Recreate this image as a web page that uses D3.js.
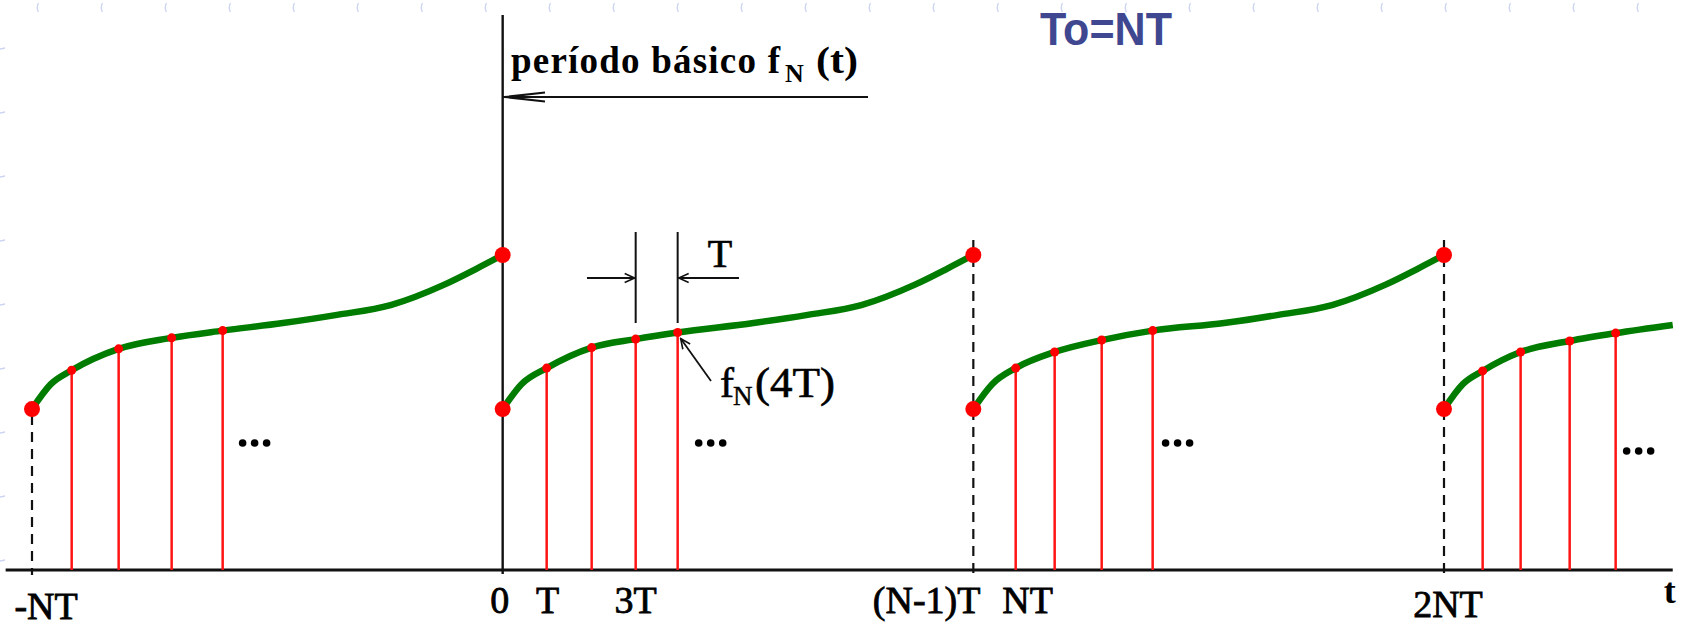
<!DOCTYPE html>
<html><head><meta charset="utf-8">
<script src="https://cdn.jsdelivr.net/npm/d3@7"></script>
<style>html,body{margin:0;padding:0;background:#fff;overflow:hidden}svg{display:block}</style>
</head><body>
<svg id="chart" width="1688" height="627"></svg>
<script>
// ---------------- data (t in units of NT, value normalised to f_N(NT-) = 1) ----------------
const periodStarts = [-1, 0, 1, 2];
const startValue = 0.511;            // f_N(0)
const endValue = 1.0;                // f_N at end of period
const headFrac = [0.04];
const headValues = [0.59];
const sampleFrac = [
  [0.0843, 0.1841, 0.2967, 0.4051],
  [0.0935, 0.1891, 0.2826, 0.3718],
  [0.0900, 0.1728, 0.2727, 0.3810],
  [0.0821, 0.1628, 0.2670, 0.3647]
];
const sampleValues = [
  [0.634, 0.702, 0.737, 0.760],
  [0.641, 0.706, 0.733, 0.754],
  [0.641, 0.692, 0.730, 0.760],
  [0.632, 0.692, 0.727, 0.752]
];
const tailFrac = [0.533, 0.648, 0.762, 0.876, 0.945, 1.0];
const tailValues = [0.784, 0.810, 0.841, 0.906, 0.957, 1.0];
const lastFrac = 0.486, lastValue = 0.778;   // visible end of the last period
const axisDomain = [-1.056, 2.486];
const tickLabels = ["-NT", "0", "T", "3T", "(N-1)T", "NT", "2NT"];
const tickPos = [-0.970, -0.006, 0.0956, 0.2826, 0.9008, 1.1154, 2.0085];
const ellipsisT = [-0.527, 0.442, 1.434, 2.4136];
const ellipsisV = [0.403, 0.403, 0.403, 0.378];

// ---------------- scales ----------------
const svg = d3.select("#chart");
const x = d3.scaleLinear().domain([-1, 2]).range([32, 1444]);
const y = d3.scaleLinear().domain([0, 1]).range([570, 255]);
const axisY = y(0);

// faint slide decoration
const deco = svg.append("g").attr("fill", "none").attr("stroke", "#cbd5f2").attr("stroke-width", 1.3);
d3.range(0, 26).forEach(k => {
  const xx = 37 + 64 * k;
  deco.append("path").attr("d", `M${xx+1.5},3 Q${xx-1},7.5 ${xx+1.5},12`);
});
d3.range(0, 9).forEach(k => {
  const yy = 49 + 64 * k;
  deco.append("path").attr("d", `M0,${yy} L5,${yy-1}`);
});

// markers
const defs = svg.append("defs");
defs.append("marker").attr("id", "arr").attr("viewBox", "0 0 12 12").attr("refX", 11).attr("refY", 6)
  .attr("markerWidth", 12).attr("markerHeight", 12).attr("markerUnits", "userSpaceOnUse").attr("orient", "auto")
  .append("path").attr("d", "M1,1.5 L11,6 L1,10.5").attr("fill", "none").attr("stroke", "#111").attr("stroke-width", 1.6);

// ---------------- axis ----------------
svg.append("line").attr("x1", x(axisDomain[0])).attr("x2", x(axisDomain[1]))
  .attr("y1", axisY).attr("y2", axisY).attr("stroke", "#111").attr("stroke-width", 2.8);

// vertical solid line at t = 0
svg.append("line").attr("x1", x(0)).attr("x2", x(0)).attr("y1", 15).attr("y2", axisY + 4)
  .attr("stroke", "#111").attr("stroke-width", 2.4);

// dashed boundaries
svg.append("line").attr("x1", x(-1)).attr("x2", x(-1)).attr("y1", y(startValue) + 6).attr("y2", axisY + 5)
  .attr("stroke", "#111").attr("stroke-width", 2.2).attr("stroke-dasharray", "10,7");
[1, 2].forEach(p => {
  svg.append("line").attr("x1", x(p)).attr("x2", x(p)).attr("y1", 240).attr("y2", axisY + 5)
    .attr("stroke", "#111").attr("stroke-width", 2.2).attr("stroke-dasharray", "10,7");
});

// ---------------- series ----------------
const line = d3.line().x(d => x(d.t)).y(d => y(d.v)).curve(d3.curveMonotoneX);
periodStarts.forEach((p, i) => {
  const pts = [{t: p, v: startValue}];
  headFrac.forEach((f, j) => pts.push({t: p + f, v: headValues[j]}));
  sampleFrac[i].forEach((f, j) => pts.push({t: p + f, v: sampleValues[i][j]}));
  const lastS = sampleFrac[i][sampleFrac[i].length - 1];
  const isLast = i === periodStarts.length - 1;
  tailFrac.forEach((f, j) => {
    if (f > lastS && (!isLast || f < lastFrac)) pts.push({t: p + f, v: tailValues[j]});
  });
  if (isLast) pts.push({t: p + lastFrac, v: lastValue});

  // stems
  sampleFrac[i].forEach((f, j) => {
    svg.append("line").attr("x1", x(p + f)).attr("x2", x(p + f))
      .attr("y1", axisY).attr("y2", y(sampleValues[i][j]))
      .attr("stroke", "#ff1414").attr("stroke-width", 2.5);
  });
  // curve
  svg.append("path").datum(pts).attr("d", line).attr("fill", "none")
    .attr("stroke", "#007c00").attr("stroke-width", 6.5);
  // sample dots
  sampleFrac[i].forEach((f, j) => {
    svg.append("circle").attr("cx", x(p + f)).attr("cy", y(sampleValues[i][j])).attr("r", 4.5).attr("fill", "#ff0000");
  });
  // endpoint dots
  svg.append("circle").attr("cx", x(p)).attr("cy", y(startValue)).attr("r", 8).attr("fill", "#ff0000");
  if (!isLast) svg.append("circle").attr("cx", x(p + 1)).attr("cy", y(endValue)).attr("r", 8).attr("fill", "#ff0000");

  // ellipsis
  [-12, 0, 12].forEach(dx => {
    svg.append("circle").attr("cx", x(ellipsisT[i]) + dx).attr("cy", y(ellipsisV[i])).attr("r", 3.8).attr("fill", "#000");
  });
});

// ---------------- annotations ----------------
const serif = "'Liberation Serif','Times New Roman',serif";

// basic period arrow
svg.append("line").attr("x1", x(0)).attr("x2", 868).attr("y1", 97).attr("y2", 97).attr("stroke", "#111").attr("stroke-width", 2.2);
svg.append("path").attr("d", `M545,92.5 L${x(0)+2},97 L545,101.5`).attr("fill", "none").attr("stroke", "#111").attr("stroke-width", 2);
svg.append("text").attr("x", 511).attr("y", 73).attr("font-family", serif).attr("font-weight", "bold")
  .attr("font-size", 37).attr("textLength", 269).attr("lengthAdjust", "spacing").text("período básico f");
svg.append("text").attr("x", 785).attr("y", 82).attr("font-family", serif).attr("font-weight", "bold")
  .attr("font-size", 26).text("N");
svg.append("text").attr("x", 816).attr("y", 73).attr("font-family", serif).attr("font-weight", "bold")
  .attr("font-size", 37).attr("textLength", 42).attr("lengthAdjust", "spacingAndGlyphs").text("(t)");

// To=NT
svg.append("text").attr("x", 1040).attr("y", 45).attr("font-family", "'Liberation Sans',Arial,sans-serif")
  .attr("font-weight", "bold").attr("font-size", 46).attr("fill", "#3f4790")
  .attr("textLength", 132).attr("lengthAdjust", "spacingAndGlyphs").text("To=NT");

// T interval marker (between 3T and 4T of the basic period)
const x3 = x(sampleFrac[1][2]), x4 = x(sampleFrac[1][3]);
[x3, x4].forEach(xx => svg.append("line").attr("x1", xx).attr("x2", xx).attr("y1", 232).attr("y2", 323)
  .attr("stroke", "#111").attr("stroke-width", 2));
svg.append("line").attr("x1", 587).attr("x2", x3 - 1).attr("y1", 278).attr("y2", 278)
  .attr("stroke", "#111").attr("stroke-width", 2).attr("marker-end", "url(#arr)");
svg.append("line").attr("x1", 739).attr("x2", x4 + 1).attr("y1", 278).attr("y2", 278)
  .attr("stroke", "#111").attr("stroke-width", 2).attr("marker-end", "url(#arr)");
svg.append("text").attr("x", 720).attr("y", 267).attr("text-anchor", "middle").attr("font-family", serif)
  .attr("font-size", 40).attr("stroke", "#000").attr("stroke-width", 0.7).text("T");

// f_N(4T) label and arrow
const dx4 = x(sampleFrac[1][3]), dy4 = y(sampleValues[1][3]);
svg.append("line").attr("x1", 711).attr("y1", 381).attr("x2", dx4 + 3).attr("y2", dy4 + 6)
  .attr("stroke", "#111").attr("stroke-width", 1.8).attr("marker-end", "url(#arr)");
svg.append("text").attr("x", 720).attr("y", 397).attr("font-family", serif).attr("font-size", 42)
  .attr("stroke", "#000").attr("stroke-width", 0.6).text("f");
svg.append("text").attr("x", 733).attr("y", 405).attr("font-family", serif).attr("font-size", 27)
  .attr("stroke", "#000").attr("stroke-width", 0.4).text("N");
svg.append("text").attr("x", 755).attr("y", 397).attr("font-family", serif).attr("font-size", 42)
  .attr("stroke", "#000").attr("stroke-width", 0.6).attr("textLength", 80).attr("lengthAdjust", "spacingAndGlyphs").text("(4T)");

// tick labels
const baseline = {"-NT": 619, "2NT": 617};
tickLabels.forEach((lab, i) => {
  svg.append("text").attr("x", x(tickPos[i])).attr("y", baseline[lab] || 613)
    .attr("text-anchor", "middle").attr("font-family", serif).attr("font-size", 38)
    .attr("stroke", "#000").attr("stroke-width", 0.8).text(lab);
});
svg.append("text").attr("x", x(axisDomain[1]) - 3).attr("y", 603).attr("text-anchor", "middle")
  .attr("font-family", serif).attr("font-weight", "bold").attr("font-size", 36).text("t");
</script>
</body></html>
